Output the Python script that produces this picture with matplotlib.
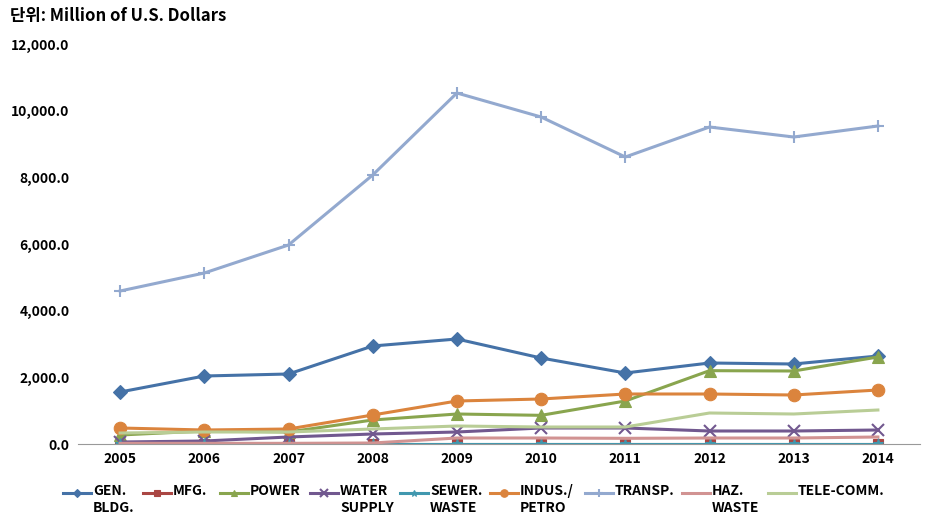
import matplotlib.pyplot as plt
import numpy as np
from matplotlib.ticker import FuncFormatter
from matplotlib.lines import Line2D

plt.rcParams['font.family'] = ['Noto Sans CJK KR', 'DejaVu Sans']

years = ['2005', '2006', '2007', '2008', '2009', '2010', '2011', '2012', '2013', '2014']

gen_bldg = [1560, 2040, 2100, 2940, 3150, 2580, 2130, 2430, 2400, 2640]
mfg = [10, 10, 10, 10, 10, 10, 10, 10, 10, 10]
power = [270, 390, 360, 720, 900, 860, 1290, 2200, 2190, 2610]
water = [60, 90, 210, 300, 360, 480, 480, 390, 390, 420]
sewer = [5, 5, 5, 5, 5, 5, 5, 5, 5, 5]
indus = [480, 420, 450, 870, 1290, 1350, 1500, 1500, 1470, 1620]
transp = [4590, 5130, 5970, 8070, 10530, 9810, 8610, 9510, 9210, 9540]
haz = [20, 20, 20, 30, 180, 180, 170, 180, 180, 210]
tele = [330, 360, 360, 450, 540, 510, 510, 930, 900, 1020]

labels = ['GEN.\nBLDG.', 'MFG.', 'POWER', 'WATER\nSUPPLY', 'SEWER.\nWASTE',
          'INDUS./\nPETRO', 'TRANSP.', 'HAZ.\nWASTE', 'TELE-COMM.']
series = [gen_bldg, mfg, power, water, sewer, indus, transp, haz, tele]
colors = ['#4572A7', '#AA4643', '#89A54E', '#71588F', '#4198AF',
          '#DB843D', '#93A9CF', '#D19392', '#B9CD96']
markers = ['D', 's', '^', 'x', '*', 'o', '+', '', '']
msizes = [7, 7, 8, 9, 8, 9, 9, 0, 0]
# legend handle start x (pixels)
leg_x = [63, 143, 220, 310, 400, 490, 585, 682, 768]

W, H = 936, 532
fig = plt.figure(figsize=(W / 100, H / 100), dpi=100)
ax = fig.add_axes([78 / W, 88 / H, 842 / W, 400 / H])

x = np.arange(len(years))
for vals, lab, c, m, ms, lx in zip(series, labels, colors, markers, msizes, leg_x):
    mew = 1.5 if m in ('x', '+') else 0.8
    ax.plot(x, vals, color=c, lw=2.2, marker=m, markersize=ms,
            markeredgewidth=mew, markeredgecolor=c)
    # legend entry
    ly = 1 - 493 / H
    fig.add_artist(Line2D([lx / W, (lx + 28) / W], [ly, ly], color=c, lw=2.2,
                          transform=fig.transFigure))
    if m:
        fig.add_artist(Line2D([(lx + 14) / W], [ly], color=c, marker=m,
                              markersize=ms * 0.6, markeredgewidth=mew,
                              markeredgecolor=c, transform=fig.transFigure))
    fig.text((lx + 30) / W, 1 - 484 / H, lab, fontsize=10, fontweight='bold',
             va='top', ha='left', linespacing=1.25)

ax.set_xlim(-0.5, 9.5)
ax.set_ylim(0, 12000)
ax.set_xticks(x)
ax.set_xticklabels(years, fontweight='bold', fontsize=10)
ax.set_yticks(np.arange(0, 12001, 2000))
ax.yaxis.set_major_formatter(FuncFormatter(lambda v, p: f'{v:,.1f}'))
for t in ax.get_yticklabels():
    t.set_fontweight('bold')
    t.set_fontsize(10)
ax.tick_params(axis='both', length=0, pad=6)
for s in ['top', 'right', 'left']:
    ax.spines[s].set_visible(False)
ax.spines['bottom'].set_color('#999999')

fig.text(10 / W, 1 - 16 / H, '단위: Million of U.S. Dollars', fontsize=12,
         fontweight='bold', va='center', ha='left')

fig.savefig('out.png', dpi=100)
